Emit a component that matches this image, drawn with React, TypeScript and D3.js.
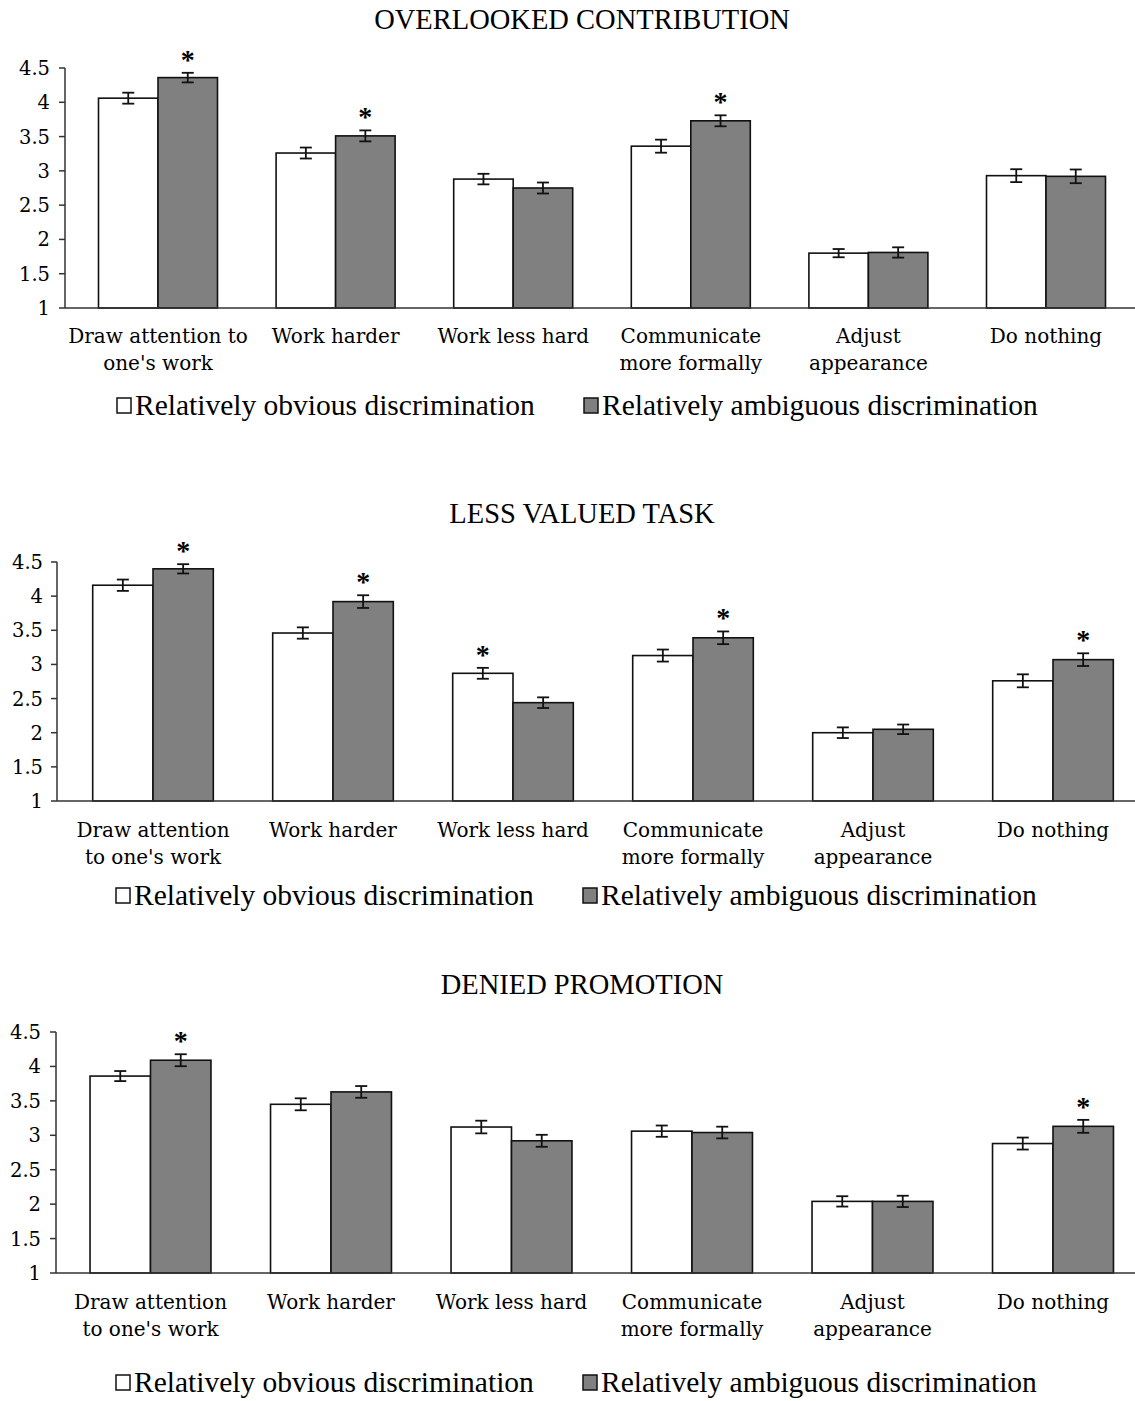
import React from "react";
import * as d3 from "d3";

const panelTitles = ["OVERLOOKED CONTRIBUTION", "LESS VALUED TASK", "DENIED PROMOTION"];
const categoriesP1 = [["Draw attention to", "one's work"], ["Work harder"], ["Work less hard"], ["Communicate", "more formally"], ["Adjust", "appearance"], ["Do nothing"]];
const categoriesP23 = [["Draw attention", "to one's work"], ["Work harder"], ["Work less hard"], ["Communicate", "more formally"], ["Adjust", "appearance"], ["Do nothing"]];
const seriesNames = ["Relatively obvious discrimination", "Relatively ambiguous discrimination"];
const yTicks = [1, 1.5, 2, 2.5, 3, 3.5, 4, 4.5];

const obviousP1 = [4.06, 3.26, 2.88, 3.36, 1.80, 2.93];
const ambiguousP1 = [4.36, 3.51, 2.75, 3.73, 1.81, 2.92];
const obviousErrP1 = [0.08, 0.08, 0.077, 0.095, 0.06, 0.094];
const ambiguousErrP1 = [0.07, 0.08, 0.08, 0.08, 0.075, 0.10];
const starsP1 = [[false, true], [false, true], [false, false], [false, true], [false, false], [false, false]];

const obviousP2 = [4.16, 3.46, 2.87, 3.13, 2.00, 2.76];
const ambiguousP2 = [4.40, 3.92, 2.44, 3.39, 2.05, 3.07];
const obviousErrP2 = [0.083, 0.083, 0.08, 0.088, 0.078, 0.095];
const ambiguousErrP2 = [0.068, 0.093, 0.078, 0.093, 0.07, 0.093];
const starsP2 = [[false, true], [false, true], [true, false], [false, true], [false, false], [false, true]];

const obviousP3 = [3.86, 3.45, 3.12, 3.06, 2.04, 2.88];
const ambiguousP3 = [4.09, 3.63, 2.92, 3.04, 2.04, 3.13];
const obviousErrP3 = [0.073, 0.087, 0.092, 0.082, 0.075, 0.087];
const ambiguousErrP3 = [0.087, 0.085, 0.087, 0.085, 0.082, 0.094];
const starsP3 = [[false, true], [false, false], [false, false], [false, false], [false, false], [false, true]];

const panels = [
  { title: panelTitles[0], cats: categoriesP1, obv: obviousP1, amb: ambiguousP1, obvErr: obviousErrP1, ambErr: ambiguousErrP1, stars: starsP1,
    layout: { titleY: 29, yTop: 68, yBot: 308, axisX: 65, firstCenter: 158, band: 177.6, catY: 343, legendY: 415, legX1: 117, legX2: 584, tickRight: 50 } },
  { title: panelTitles[1], cats: categoriesP23, obv: obviousP2, amb: ambiguousP2, obvErr: obviousErrP2, ambErr: ambiguousErrP2, stars: starsP2,
    layout: { titleY: 523, yTop: 562, yBot: 801, axisX: 57, firstCenter: 153, band: 180, catY: 837, legendY: 905, legX1: 116, legX2: 583, tickRight: 43 } },
  { title: panelTitles[2], cats: categoriesP23, obv: obviousP3, amb: ambiguousP3, obvErr: obviousErrP3, ambErr: ambiguousErrP3, stars: starsP3,
    layout: { titleY: 994, yTop: 1032, yBot: 1273, axisX: 56, firstCenter: 150.5, band: 180.5, catY: 1309, legendY: 1392, legX1: 116, legX2: 583, tickRight: 41 } },
];

const FONT = "'DejaVu Serif', serif";
const LFONT = "'Liberation Serif', serif";
const GRAY = "#808080";

function Panel({ p }: { p: any }) {
  const L = p.layout;
  const n = p.cats.length;
  const x = d3.scaleBand<number>()
    .domain(d3.range(n))
    .range([L.firstCenter - L.band / 2, L.firstCenter - L.band / 2 + L.band * n])
    .paddingInner(0.33)
    .paddingOuter(0.165);
  const y = d3.scaleLinear().domain([1, 4.5]).range([L.yBot, L.yTop]);
  const sub = d3.scaleBand<number>().domain([0, 1]).range([0, x.bandwidth()]);
  const series = [
    { vals: p.obv, errs: p.obvErr, fill: "#ffffff" },
    { vals: p.amb, errs: p.ambErr, fill: GRAY },
  ];
  return (
    <g>
      <text x={582} y={L.titleY} textAnchor="middle" fontFamily={LFONT} fontSize={28.5} fill="#000">{p.title}</text>
      <line x1={L.axisX} x2={L.axisX} y1={L.yTop} y2={L.yBot} stroke="#333" strokeWidth={1.5} />
      {yTicks.map((t) => (
        <g key={t}>
          <line x1={L.axisX - 6} x2={L.axisX} y1={y(t)} y2={y(t)} stroke="#333" strokeWidth={1.5} />
          <text x={L.tickRight} y={y(t) + 7} textAnchor="end" fontFamily={FONT} fontSize={19.5} fill="#000">{t}</text>
        </g>
      ))}
      {d3.range(n).map((i) => (
        <g key={i}>
          {series.map((s, k) => {
            const bx = (x(i) as number) + (sub(k) as number);
            const bw = sub.bandwidth();
            const v = s.vals[i];
            const e = s.errs[i];
            const cx = bx + bw / 2;
            return (
              <g key={k}>
                <rect x={bx} y={y(v)} width={bw} height={y(1) - y(v)} fill={s.fill} stroke="#111" strokeWidth={1.6} />
                <line x1={cx} x2={cx} y1={y(v + e)} y2={y(v - e)} stroke="#111" strokeWidth={1.8} />
                <line x1={cx - 6} x2={cx + 6} y1={y(v + e)} y2={y(v + e)} stroke="#111" strokeWidth={1.8} />
                <line x1={cx - 6} x2={cx + 6} y1={y(v - e)} y2={y(v - e)} stroke="#111" strokeWidth={1.8} />
                {p.stars[i][k] && (
                  <text x={cx} y={y(v + e) - 4} textAnchor="middle" fontFamily={LFONT} fontWeight="bold" fontSize={28} fill="#000">*</text>
                )}
              </g>
            );
          })}
          {p.cats[i].map((line: string, j: number) => (
            <text key={j} x={(x(i) as number) + x.bandwidth() / 2} y={L.catY + j * 27} textAnchor="middle" fontFamily={FONT} fontSize={20} fill="#000">{line}</text>
          ))}
        </g>
      ))}
      <line x1={L.axisX} x2={1135} y1={L.yBot} y2={L.yBot} stroke="#333" strokeWidth={1.5} />
      {[L.legX1, L.legX2].map((lx: number, k: number) => (
        <g key={k}>
          <rect x={lx} y={L.legendY - 17} width={14} height={15} fill={series[k].fill} stroke="#111" strokeWidth={1.5} />
          <text x={lx + 18} y={L.legendY} fontFamily={LFONT} fontSize={29.5} fill="#000">{seriesNames[k]}</text>
        </g>
      ))}
    </g>
  );
}

export default function App() {
  return (
    <svg width={1135} height={1401} style={{ position: "absolute", left: 0, top: 0, background: "#fff" }}>
      <rect width={1135} height={1401} fill="#fff" />
      {panels.map((p, i) => <Panel key={i} p={p} />)}
    </svg>
  );
}
